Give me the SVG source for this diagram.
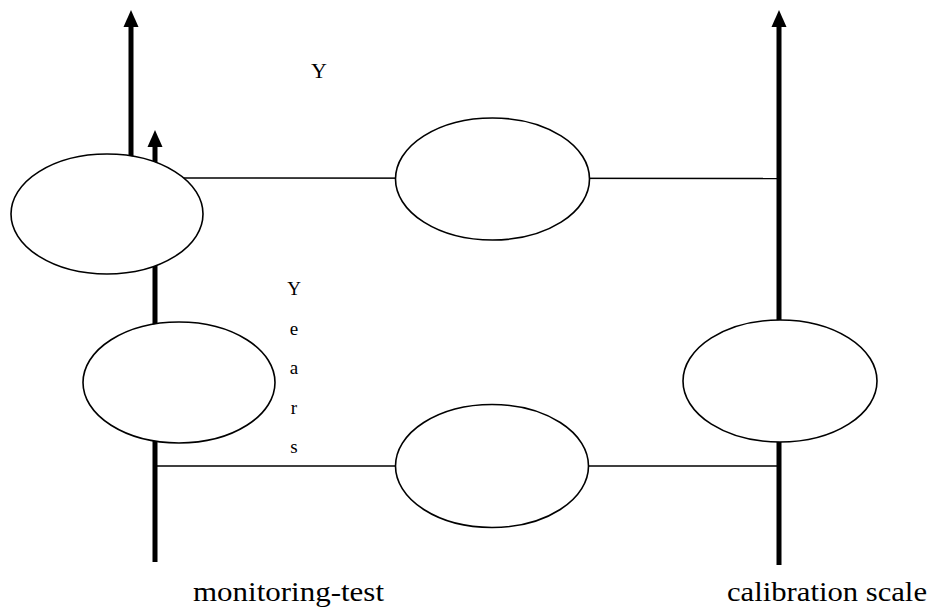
<svg xmlns="http://www.w3.org/2000/svg" width="930" height="610" viewBox="0 0 930 610">
<style>
.thick{stroke:#000;stroke-width:5;fill:none}
.thin{stroke:#000;stroke-width:1.4;fill:none}
.node{fill:#fff;stroke:#000;stroke-width:1.6}
text{font-family:"Liberation Serif","Times New Roman",serif;fill:#000}
</style>
<rect width="930" height="610" fill="#fff"/>
<g id="connectors">
<line class="thick" x1="131" y1="214" x2="131" y2="26"/>
<polygon points="123.5,27 131,10 138.5,27" fill="#000"/>
<line class="thick" x1="155" y1="562" x2="155" y2="146"/>
<polygon points="147.5,147 155,130 162.5,147" fill="#000"/>
<line class="thick" x1="779" y1="565" x2="779" y2="26"/>
<polygon points="771.5,27 779,10 786.5,27" fill="#000"/>
<line class="thin" x1="180" y1="178" x2="779" y2="178.5"/>
<line class="thin" x1="155" y1="466" x2="779" y2="466"/>
</g>
<g id="node-top-left"><ellipse class="node" cx="107" cy="214" rx="96" ry="60"/></g>
<g id="node-top-mid"><ellipse class="node" cx="492.5" cy="179" rx="97" ry="61"/></g>
<g id="node-mid-left"><ellipse class="node" cx="179" cy="382.5" rx="96" ry="60.5"/></g>
<g id="node-right"><ellipse class="node" cx="780" cy="381" rx="97" ry="61"/></g>
<g id="node-bottom-mid"><ellipse class="node" cx="492" cy="466" rx="96.5" ry="61.5"/></g>
<g id="labels">
<text x="319" y="78" font-size="22" text-anchor="middle">Y</text>
<g font-size="19" text-anchor="middle">
<text x="294" y="295">Y</text>
<text x="294" y="334.5">e</text>
<text x="294" y="374">a</text>
<text x="294" y="413.5">r</text>
<text x="294" y="453">s</text>
</g>
<text x="193" y="601" font-size="28" textLength="191" lengthAdjust="spacingAndGlyphs">monitoring-test</text>
<text x="727" y="601" font-size="28" textLength="200" lengthAdjust="spacingAndGlyphs">calibration scale</text>
</g>
</svg>
